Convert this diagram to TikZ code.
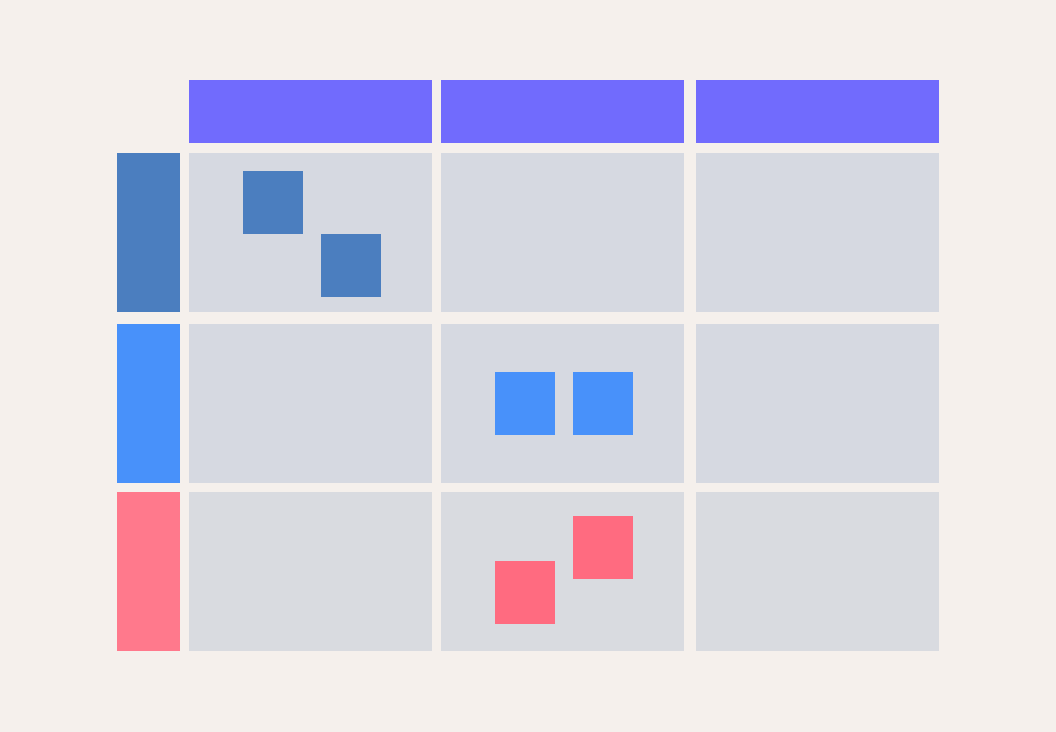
\documentclass[tikz,border=0pt]{standalone}
\usepackage{xcolor}
\usepackage{tikz}
\definecolor{paper}{HTML}{F5F0EC}
\definecolor{head}{HTML}{716BFD}
\definecolor{cell}{HTML}{D6D9E1}
\definecolor{cellsoft}{HTML}{D9DBE0}
\definecolor{steel}{HTML}{4B7EBF}
\definecolor{sky}{HTML}{4891FA}
\definecolor{rose}{HTML}{FF798C}
\definecolor{rosedeep}{HTML}{FF6B80}
\tikzset{
  blk/.style     = {rectangle, inner sep=0pt, outer sep=0pt, draw=none},
  colhead/.style = {blk, fill=head, minimum width=4.86cm, minimum height=1.26cm},
  gridcell/.style= {blk, fill=cell, minimum width=4.86cm, minimum height=3.18cm},
  rowhead/.style = {blk, minimum width=1.26cm, minimum height=3.18cm},
  tile/.style    = {blk, minimum width=1.2cm, minimum height=1.26cm},
}

\begin{document}
\begin{tikzpicture}[x=0.02cm, y=-0.02cm]
  \fill[paper] (0,0) rectangle (1056,732);
  \useasboundingbox (0,0) rectangle (1056,732);

  % column heads
  \node[colhead] (h1) at (310.5,112) {};
  \node[colhead] (h2) at (562.5,112) {};
  \node[colhead] (h3) at (817.5,112) {};

  % row heads
  \node[rowhead, fill=steel] (r1) at (148.5,232.5) {};
  \node[rowhead, fill=sky]   (r2) at (148.5,403.5) {};
  \node[rowhead, fill=rose]  (r3) at (148.5,571.5) {};

  % cells
  \node[gridcell] (c11) at (310.5,232.5) {};
  \node[gridcell] (c12) at (562.5,232.5) {};
  \node[gridcell] (c13) at (817.5,232.5) {};
  \node[gridcell] (c21) at (310.5,403.5) {};
  \node[gridcell] (c22) at (562.5,403.5) {};
  \node[gridcell] (c23) at (817.5,403.5) {};
  \node[gridcell, fill=cellsoft] (c31) at (310.5,571.5) {};
  \node[gridcell, fill=cellsoft] (c32) at (562.5,571.5) {};
  \node[gridcell, fill=cellsoft] (c33) at (817.5,571.5) {};

  % tiles
  \node[tile, fill=steel]    (t1a) at (273,202.5) {};
  \node[tile, fill=steel]    (t1b) at (351,265.5) {};
  \node[tile, fill=sky]      (t2a) at (525,403.5) {};
  \node[tile, fill=sky]      (t2b) at (603,403.5) {};
  \node[tile, fill=rosedeep] (t3a) at (525,592.5) {};
  \node[tile, fill=rosedeep] (t3b) at (603,547.5) {};
\end{tikzpicture}
\end{document}
